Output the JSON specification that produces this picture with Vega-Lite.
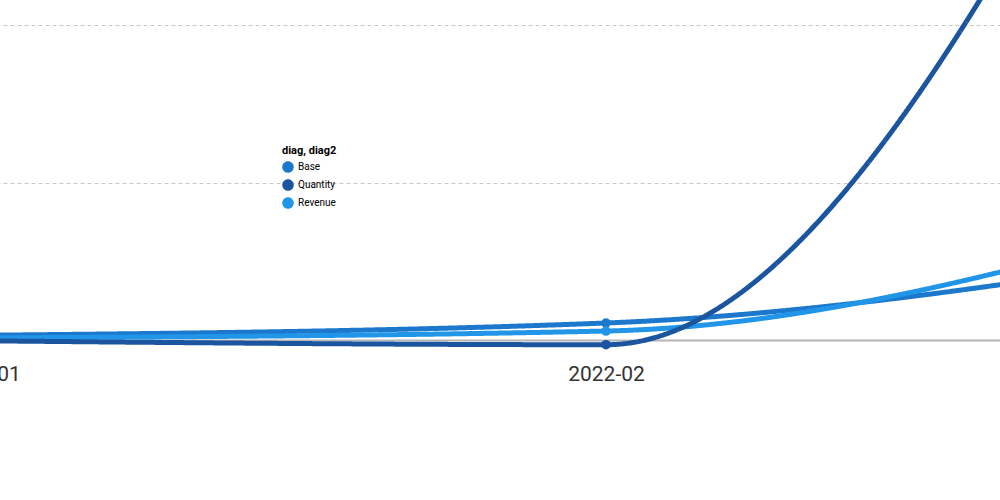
{
  "$schema": "https://vega.github.io/schema/vega-lite/v6.json",
  "autosize": "none",
  "padding": {"left": -18, "top": -605, "right": -230, "bottom": 160},
  "width": 1248,
  "height": 945,
  "background": "white",
  "config": {
    "view": {"stroke": null},
    "font": "Roboto"
  },
  "data": {
    "values": [
      {"month": "2022-01", "series": "Base", "name": "Base", "value": 0.03},
      {"month": "2022-02", "series": "Base", "name": "Base", "value": 0.108},
      {"month": "2022-03", "series": "Base", "name": "Base", "value": 0.57},
      {"month": "2022-01", "series": "Revenue", "name": "Revenue", "value": 0.013},
      {"month": "2022-02", "series": "Revenue", "name": "Revenue", "value": 0.057},
      {"month": "2022-03", "series": "Revenue", "name": "Revenue", "value": 0.82},
      {"month": "2022-01", "series": "Quantity", "name": "Quantity", "value": -0.005},
      {"month": "2022-02", "series": "Quantity", "name": "Quantity", "value": -0.03},
      {"month": "2022-03", "series": "Quantity", "name": "Quantity", "value": 5.05}
    ]
  },
  "encoding": {
    "x": {
      "field": "month", "type": "ordinal",
      "scale": {"type": "point", "padding": 0},
      "axis": {
        "title": null, "labelAngle": 0, "ticks": false, "labelPadding": 23,
        "labelFontSize": 21, "labelColor": "#333333", "labelFont": "Roboto",
        "domainColor": "#b5b5b5", "domainWidth": 2, "grid": false
      }
    },
    "y": {
      "field": "value", "type": "quantitative",
      "scale": {"domain": [0, 6], "nice": false},
      "axis": {
        "title": null, "domain": false, "ticks": false, "labels": false,
        "tickCount": 6, "gridColor": "#c8c8c8", "gridDash": [4, 3], "gridWidth": 1
      }
    },
    "color": {
      "field": "series", "type": "nominal",
      "scale": {"domain": ["Base", "Quantity", "Revenue"], "range": ["#1c78cc", "#1b55a0", "#2196e8"]},
      "legend": {"orient": "none", "legendX": 300, "legendY": 750, "title": "diag"}
    }
  },
  "layer": [
    {
      "mark": {"type": "line", "interpolate": "monotone", "strokeWidth": 5},
      "encoding": {
        "strokeDash": {
          "field": "name", "type": "nominal",
          "scale": {"domain": ["Base", "Quantity", "Revenue"], "range": [[1, 0], [1, 0], [1, 0]]},
          "legend": {"orient": "none", "legendX": 600, "legendY": 750, "title": "diag2"}
        },
        "order": {"field": "series", "sort": "ascending"}
      }
    },
    {
      "mark": {"type": "point", "filled": true, "size": 90, "opacity": 1}
    }
  ]
}
